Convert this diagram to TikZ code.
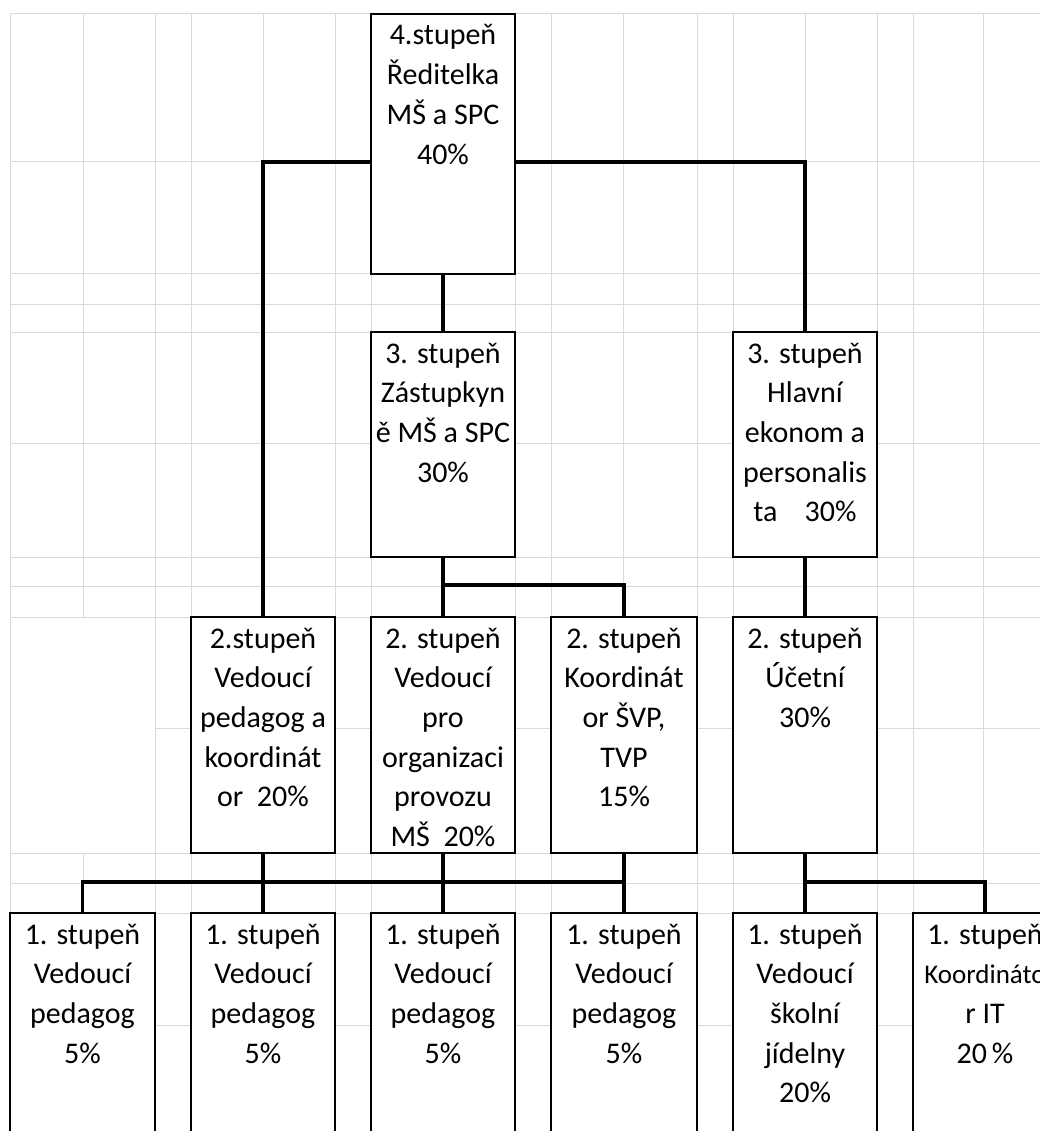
\documentclass[tikz,border=0pt]{standalone}
\usepackage{fontspec}
\setmainfont{Carlito}
\newcommand{\celltxt}[2]{\parbox[c][#1pt][t]{140pt}{\centering\rule{0pt}{31pt}#2}}

\begin{document}
\begin{tikzpicture}[x=1pt,y=-1pt,
    font=\fontsize{30}{39.7}\selectfont,
    xlgrid/.style={gray!30,line width=1pt},
    stbox/.style={draw,fill=white,line width=2pt,inner sep=0pt,minimum width=144pt},
    conn/.style={line width=3.3pt}]
        \fill[white] (0,0) rectangle (1040,1131);
        \useasboundingbox (0,0) rectangle (1040,1131);

        % Draw the sheet grid
        \foreach \gx in {10,155,191,263,335,371,443,515,551,623,697,733,805,877,913,983}
            \draw[xlgrid] (\gx,14) -- (\gx,1131);
        \draw[xlgrid] (83,14) -- (83,617) (83,853) -- (83,1131);  % merged cell A:B
        \foreach \gy in {14,162,274,304,332,443,557,586,617,853,883,913,1025}
            \draw[xlgrid] (10,\gy) -- (1040,\gy);
        \draw[xlgrid] (155,728) -- (1040,728);

        % Draw the boxes
        \node[stbox] (dir) at (443,144) {\celltxt{260}{4.stupeň\\Ředitelka\\MŠ a SPC\\40\%}};
        \node[stbox] (zast) at (443,444.5) {\celltxt{225}{3. stupeň\\Zástupkyn\\ě MŠ a SPC\\30\%}};
        \node[stbox] (ekon) at (805,444.5) {\celltxt{225}{3. stupeň\\Hlavní\\ekonom a\\personalis\\ta~~~~30\%}};
        \node[stbox] (vped) at (263,735) {\celltxt{236}{2.stupeň\\Vedoucí\\pedagog a\\koordinát\\or~~20\%}};
        \node[stbox] (vorg) at (443,735) {\celltxt{236}{2. stupeň\\Vedoucí\\pro\\organizaci\\provozu\\MŠ~~20\%}};
        \node[stbox,minimum width=146pt] (ksvp) at (624,735) {\celltxt{236}{2. stupeň\\Koordinát\\or ŠVP,\\TVP\\15\%}};
        \node[stbox] (ucet) at (805,735) {\celltxt{236}{2. stupeň\\Účetní\\30\%}};
        \node[stbox,minimum width=145pt] (p1) at (82.5,1031.5) {\celltxt{237}{1. stupeň\\Vedoucí\\pedagog\\5\%}};
        \node[stbox] (p2) at (263,1031.5) {\celltxt{237}{1. stupeň\\Vedoucí\\pedagog\\5\%}};
        \node[stbox] (p3) at (443,1031.5) {\celltxt{237}{1. stupeň\\Vedoucí\\pedagog\\5\%}};
        \node[stbox,minimum width=146pt] (p4) at (624,1031.5) {\celltxt{237}{1. stupeň\\Vedoucí\\pedagog\\5\%}};
        \node[stbox] (jid) at (805,1031.5) {\celltxt{237}{1. stupeň\\Vedoucí\\školní\\jídelny\\20\%}};
        \node[stbox] (it) at (985,1031.5) {\celltxt{237}{1. stupeň\\{\fontsize{27}{39.7}\selectfont Koordináto}\\r IT\\20\,\%}};

        % Draw the connectors
        \draw[conn] ([yshift=-18pt]dir.west) -| (vped.north);  % to 2.stupen
        \draw[conn] ([yshift=-18pt]dir.east) -| (ekon.north);  % to ekonom
        \draw[conn] (dir.south) -- (zast.north);
        \draw[conn] (zast.south) -- (vorg.north);
        \draw[conn] (zast.south) ++(0,27) -| (ksvp.north);
        \draw[conn] (ekon.south) -- (ucet.north);
        \draw[conn] (vped.south) -- (p2.north);
        \draw[conn] (vorg.south) -- (p3.north);
        \draw[conn] (ksvp.south) -- (p4.north);
        \draw[conn] (p1.north) -- ++(0,-30) -| (p4.north);  % lower bar, left
        \draw[conn] (ucet.south) -- (jid.north);
        \draw[conn] (jid.north) ++(0,-30) -| (it.north);  % lower bar, right
    \end{tikzpicture}
\end{document}
